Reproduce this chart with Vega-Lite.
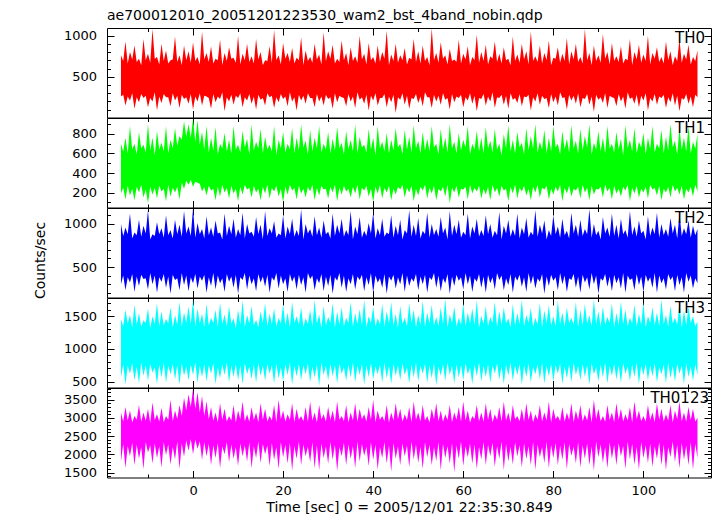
{
"$schema": "https://vega.github.io/schema/vega-lite/v6.json",
"background": "white",
"padding": {"left": 32, "top": 8, "right": 5, "bottom": 2},
"spacing": 0,
"bounds": "flush",
"config": {
  "view": {"stroke": "black", "strokeWidth": 1},
  "concat": {"spacing": 0},
  "font": "DejaVu Sans",
  "axis": {"domain": false, "grid": false, "tickColor": "black", "tickWidth": 1, "labelColor": "black", "labelFont": "DejaVu Sans", "labelFontSize": 13, "labelOverlap": false, "labelFlush": false, "titleFont": "DejaVu Sans", "titleFontSize": 14, "titleFontWeight": "normal", "titleColor": "black"}
},
"datasets": {"lc": [
{"t":-16,"r0":260,"r1":760,"g0":190,"g1":700,"b0":300,"b1":1000,"c0":560,"c1":1460,"m0":1800,"m1":3150},
{"t":-15,"r0":150,"r1":930,"g0":130,"g1":760,"b0":230,"b1":960,"c0":450,"c1":1600,"m0":1620,"m1":3300},
{"t":-14,"r0":210,"r1":800,"g0":170,"g1":880,"b0":320,"b1":1120,"c0":620,"c1":1520,"m0":1950,"m1":3200},
{"t":-13,"r0":110,"r1":880,"g0":120,"g1":700,"b0":210,"b1":900,"c0":520,"c1":1680,"m0":1700,"m1":3050},
{"t":-12,"r0":190,"r1":720,"g0":200,"g1":820,"b0":280,"b1":1050,"c0":470,"c1":1550,"m0":1880,"m1":3350},
{"t":-11,"r0":240,"r1":960,"g0":150,"g1":690,"b0":360,"b1":980,"c0":590,"c1":1440,"m0":1590,"m1":3150},
{"t":-10,"r0":130,"r1":780,"g0":90,"g1":900,"b0":240,"b1":1160,"c0":510,"c1":1620,"m0":2050,"m1":3250},
{"t":-9,"r0":200,"r1":1080,"g0":180,"g1":760,"b0":300,"b1":880,"c0":640,"c1":1500,"m0":1750,"m1":3420},
{"t":-8,"r0":90,"r1":740,"g0":140,"g1":830,"b0":200,"b1":1020,"c0":460,"c1":1700,"m0":1900,"m1":3100},
{"t":-7,"r0":180,"r1":900,"g0":210,"g1":710,"b0":330,"b1":950,"c0":560,"c1":1580,"m0":1640,"m1":3280},
{"t":-6,"r0":250,"r1":820,"g0":110,"g1":880,"b0":260,"b1":1100,"c0":480,"c1":1460,"m0":1980,"m1":3050},
{"t":-5,"r0":140,"r1":700,"g0":160,"g1":740,"b0":190,"b1":930,"c0":610,"c1":1640,"m0":1720,"m1":3500},
{"t":-4,"r0":210,"r1":990,"g0":200,"g1":860,"b0":350,"b1":1050,"c0":530,"c1":1520,"m0":1860,"m1":3200},
{"t":-3,"r0":120,"r1":760,"g0":130,"g1":780,"b0":230,"b1":990,"c0":450,"c1":1720,"m0":1600,"m1":3350},
{"t":-2,"r0":230,"r1":880,"g0":240,"g1":930,"b0":290,"b1":1150,"c0":590,"c1":1560,"m0":1930,"m1":3550},
{"t":-1,"r0":170,"r1":810,"g0":280,"g1":900,"b0":220,"b1":970,"c0":520,"c1":1650,"m0":2100,"m1":3650},
{"t":0,"r0":100,"r1":920,"g0":260,"g1":960,"b0":310,"b1":1180,"c0":600,"c1":1760,"m0":2000,"m1":3800},
{"t":1,"r0":200,"r1":740,"g0":300,"g1":940,"b0":250,"b1":1010,"c0":480,"c1":1620,"m0":2150,"m1":3700},
{"t":2,"r0":150,"r1":1050,"g0":210,"g1":820,"b0":340,"b1":940,"c0":570,"c1":1540,"m0":1850,"m1":3600},
{"t":3,"r0":260,"r1":790,"g0":170,"g1":880,"b0":200,"b1":1090,"c0":500,"c1":1690,"m0":1950,"m1":3450},
{"t":4,"r0":110,"r1":870,"g0":220,"g1":760,"b0":280,"b1":960,"c0":620,"c1":1480,"m0":1700,"m1":3300},
{"t":5,"r0":190,"r1":720,"g0":120,"g1":870,"b0":240,"b1":1040,"c0":460,"c1":1600,"m0":1900,"m1":3150},
{"t":6,"r0":230,"r1":950,"g0":160,"g1":700,"b0":310,"b1":900,"c0":550,"c1":1710,"m0":1620,"m1":3400},
{"t":7,"r0":80,"r1":790,"g0":200,"g1":810,"b0":210,"b1":1120,"c0":600,"c1":1530,"m0":2000,"m1":3250},
{"t":8,"r0":200,"r1":860,"g0":140,"g1":740,"b0":330,"b1":980,"c0":490,"c1":1650,"m0":1780,"m1":3050},
{"t":9,"r0":160,"r1":730,"g0":190,"g1":880,"b0":260,"b1":1060,"c0":570,"c1":1470,"m0":1880,"m1":3350},
{"t":10,"r0":240,"r1":1000,"g0":110,"g1":690,"b0":190,"b1":940,"c0":520,"c1":1600,"m0":1680,"m1":3200},
{"t":11,"r0":130,"r1":780,"g0":180,"g1":830,"b0":350,"b1":1130,"c0":460,"c1":1740,"m0":1950,"m1":3450},
{"t":12,"r0":210,"r1":900,"g0":230,"g1":750,"b0":240,"b1":1000,"c0":610,"c1":1520,"m0":1800,"m1":3100},
{"t":13,"r0":170,"r1":750,"g0":150,"g1":900,"b0":300,"b1":910,"c0":540,"c1":1660,"m0":1620,"m1":3300},
{"t":14,"r0":100,"r1":960,"g0":200,"g1":720,"b0":220,"b1":1080,"c0":480,"c1":1450,"m0":1900,"m1":3150},
{"t":15,"r0":220,"r1":800,"g0":120,"g1":850,"b0":320,"b1":990,"c0":590,"c1":1580,"m0":1760,"m1":3400},
{"t":16,"r0":150,"r1":700,"g0":190,"g1":770,"b0":270,"b1":1150,"c0":510,"c1":1700,"m0":2000,"m1":3250},
{"t":17,"r0":250,"r1":870,"g0":140,"g1":690,"b0":200,"b1":950,"c0":620,"c1":1540,"m0":1680,"m1":3050},
{"t":18,"r0":120,"r1":1070,"g0":210,"g1":880,"b0":340,"b1":1030,"c0":470,"c1":1620,"m0":1850,"m1":3350},
{"t":19,"r0":190,"r1":760,"g0":160,"g1":740,"b0":250,"b1":890,"c0":550,"c1":1480,"m0":1600,"m1":3500},
{"t":20,"r0":230,"r1":910,"g0":100,"g1":820,"b0":300,"b1":1100,"c0":500,"c1":1690,"m0":1920,"m1":3200},
{"t":21,"r0":140,"r1":790,"g0":180,"g1":700,"b0":210,"b1":970,"c0":600,"c1":1560,"m0":1750,"m1":3100},
{"t":22,"r0":200,"r1":850,"g0":220,"g1":860,"b0":330,"b1":1060,"c0":450,"c1":1720,"m0":1550,"m1":3400},
{"t":23,"r0":90,"r1":730,"g0":130,"g1":760,"b0":240,"b1":930,"c0":580,"c1":1500,"m0":1880,"m1":3250},
{"t":24,"r0":210,"r1":980,"g0":190,"g1":900,"b0":290,"b1":1170,"c0":520,"c1":1640,"m0":1700,"m1":3050},
{"t":25,"r0":170,"r1":820,"g0":150,"g1":730,"b0":200,"b1":1000,"c0":610,"c1":1470,"m0":1950,"m1":3300},
{"t":26,"r0":240,"r1":740,"g0":210,"g1":840,"b0":360,"b1":940,"c0":490,"c1":1600,"m0":1780,"m1":3450},
{"t":27,"r0":130,"r1":900,"g0":120,"g1":760,"b0":230,"b1":1090,"c0":560,"c1":1750,"m0":1620,"m1":3150},
{"t":28,"r0":200,"r1":770,"g0":170,"g1":880,"b0":310,"b1":960,"c0":430,"c1":1530,"m0":1560,"m1":3350},
{"t":29,"r0":150,"r1":1040,"g0":230,"g1":700,"b0":220,"b1":1040,"c0":600,"c1":1660,"m0":1900,"m1":3100},
{"t":30,"r0":230,"r1":810,"g0":140,"g1":820,"b0":280,"b1":910,"c0":520,"c1":1490,"m0":1740,"m1":3300},
{"t":31,"r0":110,"r1":890,"g0":200,"g1":750,"b0":190,"b1":1120,"c0":580,"c1":1700,"m0":1850,"m1":3200},
{"t":32,"r0":190,"r1":720,"g0":110,"g1":870,"b0":340,"b1":990,"c0":470,"c1":1570,"m0":1540,"m1":3450},
{"t":33,"r0":250,"r1":940,"g0":180,"g1":710,"b0":260,"b1":1060,"c0":620,"c1":1640,"m0":1950,"m1":3050},
{"t":34,"r0":140,"r1":790,"g0":210,"g1":830,"b0":210,"b1":930,"c0":510,"c1":1480,"m0":1700,"m1":3350},
{"t":35,"r0":200,"r1":860,"g0":150,"g1":740,"b0":300,"b1":1150,"c0":560,"c1":1720,"m0":1880,"m1":3150},
{"t":36,"r0":120,"r1":750,"g0":190,"g1":900,"b0":240,"b1":970,"c0":490,"c1":1550,"m0":1620,"m1":3400},
{"t":37,"r0":220,"r1":1000,"g0":130,"g1":770,"b0":350,"b1":1080,"c0":600,"c1":1610,"m0":1800,"m1":3250},
{"t":38,"r0":170,"r1":780,"g0":220,"g1":690,"b0":220,"b1":920,"c0":450,"c1":1760,"m0":1960,"m1":3100},
{"t":39,"r0":90,"r1":910,"g0":160,"g1":850,"b0":290,"b1":1010,"c0":570,"c1":1500,"m0":1680,"m1":3300},
{"t":40,"r0":210,"r1":740,"g0":100,"g1":760,"b0":200,"b1":1130,"c0":530,"c1":1650,"m0":1850,"m1":3500},
{"t":41,"r0":150,"r1":880,"g0":190,"g1":880,"b0":320,"b1":950,"c0":610,"c1":1470,"m0":1580,"m1":3200},
{"t":42,"r0":240,"r1":800,"g0":140,"g1":720,"b0":260,"b1":1060,"c0":480,"c1":1690,"m0":1900,"m1":3050},
{"t":43,"r0":130,"r1":1060,"g0":200,"g1":810,"b0":190,"b1":900,"c0":550,"c1":1580,"m0":1750,"m1":3350},
{"t":44,"r0":190,"r1":770,"g0":120,"g1":740,"b0":340,"b1":1100,"c0":460,"c1":1720,"m0":1520,"m1":3150},
{"t":45,"r0":60,"r1":900,"g0":180,"g1":860,"b0":250,"b1":980,"c0":590,"c1":1540,"m0":1880,"m1":3400},
{"t":46,"r0":220,"r1":760,"g0":230,"g1":700,"b0":300,"b1":1050,"c0":520,"c1":1660,"m0":1700,"m1":3250},
{"t":47,"r0":160,"r1":850,"g0":150,"g1":840,"b0":210,"b1":930,"c0":600,"c1":1480,"m0":1950,"m1":3100},
{"t":48,"r0":110,"r1":730,"g0":200,"g1":770,"b0":280,"b1":1160,"c0":470,"c1":1700,"m0":1640,"m1":3300},
{"t":49,"r0":230,"r1":960,"g0":110,"g1":890,"b0":330,"b1":990,"c0":560,"c1":1600,"m0":1860,"m1":3450},
{"t":50,"r0":180,"r1":810,"g0":170,"g1":730,"b0":230,"b1":1070,"c0":500,"c1":1520,"m0":1760,"m1":3150},
{"t":51,"r0":140,"r1":880,"g0":220,"g1":820,"b0":300,"b1":920,"c0":620,"c1":1740,"m0":1600,"m1":3350},
{"t":52,"r0":250,"r1":740,"g0":140,"g1":750,"b0":200,"b1":1130,"c0":480,"c1":1560,"m0":1920,"m1":3050},
{"t":53,"r0":120,"r1":1090,"g0":190,"g1":880,"b0":350,"b1":1000,"c0":550,"c1":1680,"m0":1700,"m1":3250},
{"t":54,"r0":200,"r1":790,"g0":120,"g1":700,"b0":260,"b1":940,"c0":440,"c1":1490,"m0":1820,"m1":3400},
{"t":55,"r0":160,"r1":920,"g0":210,"g1":850,"b0":220,"b1":1080,"c0":590,"c1":1640,"m0":1560,"m1":3200},
{"t":56,"r0":220,"r1":760,"g0":160,"g1":760,"b0":310,"b1":960,"c0":510,"c1":1770,"m0":1900,"m1":3100},
{"t":57,"r0":100,"r1":840,"g0":90,"g1":900,"b0":190,"b1":1150,"c0":600,"c1":1530,"m0":1750,"m1":3350},
{"t":58,"r0":190,"r1":710,"g0":200,"g1":720,"b0":280,"b1":990,"c0":470,"c1":1650,"m0":1500,"m1":3150},
{"t":59,"r0":240,"r1":950,"g0":150,"g1":810,"b0":340,"b1":1050,"c0":560,"c1":1480,"m0":1880,"m1":3300},
{"t":60,"r0":130,"r1":780,"g0":230,"g1":740,"b0":240,"b1":910,"c0":520,"c1":1700,"m0":1680,"m1":3450},
{"t":61,"r0":210,"r1":870,"g0":130,"g1":880,"b0":300,"b1":1120,"c0":610,"c1":1560,"m0":1920,"m1":3200},
{"t":62,"r0":170,"r1":740,"g0":190,"g1":700,"b0":210,"b1":970,"c0":460,"c1":1620,"m0":1740,"m1":3050},
{"t":63,"r0":80,"r1":1010,"g0":210,"g1":830,"b0":330,"b1":1060,"c0":580,"c1":1750,"m0":1600,"m1":3350},
{"t":64,"r0":230,"r1":800,"g0":140,"g1":760,"b0":260,"b1":930,"c0":500,"c1":1510,"m0":1860,"m1":3150},
{"t":65,"r0":150,"r1":890,"g0":180,"g1":870,"b0":200,"b1":1100,"c0":570,"c1":1660,"m0":1700,"m1":3400},
{"t":66,"r0":200,"r1":750,"g0":120,"g1":730,"b0":310,"b1":1000,"c0":480,"c1":1490,"m0":1950,"m1":3250},
{"t":67,"r0":120,"r1":930,"g0":200,"g1":850,"b0":240,"b1":920,"c0":620,"c1":1720,"m0":1650,"m1":3100},
{"t":68,"r0":240,"r1":780,"g0":160,"g1":700,"b0":350,"b1":1140,"c0":530,"c1":1580,"m0":1880,"m1":3300},
{"t":69,"r0":160,"r1":860,"g0":220,"g1":800,"b0":230,"b1":980,"c0":460,"c1":1640,"m0":1560,"m1":3450},
{"t":70,"r0":110,"r1":720,"g0":110,"g1":890,"b0":290,"b1":1050,"c0":590,"c1":1470,"m0":1800,"m1":3150},
{"t":71,"r0":220,"r1":990,"g0":190,"g1":740,"b0":200,"b1":940,"c0":510,"c1":1690,"m0":1720,"m1":3350},
{"t":72,"r0":180,"r1":770,"g0":140,"g1":820,"b0":340,"b1":1120,"c0":600,"c1":1550,"m0":1950,"m1":3050},
{"t":73,"r0":140,"r1":900,"g0":210,"g1":710,"b0":270,"b1":960,"c0":450,"c1":1760,"m0":1640,"m1":3250},
{"t":74,"r0":250,"r1":810,"g0":170,"g1":860,"b0":210,"b1":1070,"c0":570,"c1":1520,"m0":1870,"m1":3400},
{"t":75,"r0":90,"r1":1050,"g0":120,"g1":780,"b0":300,"b1":910,"c0":490,"c1":1630,"m0":1700,"m1":3200},
{"t":76,"r0":200,"r1":750,"g0":200,"g1":900,"b0":250,"b1":1160,"c0":610,"c1":1480,"m0":1580,"m1":3100},
{"t":77,"r0":160,"r1":880,"g0":150,"g1":720,"b0":330,"b1":990,"c0":530,"c1":1710,"m0":1920,"m1":3350},
{"t":78,"r0":230,"r1":790,"g0":230,"g1":840,"b0":190,"b1":1040,"c0":470,"c1":1590,"m0":1760,"m1":3150},
{"t":79,"r0":120,"r1":940,"g0":130,"g1":760,"b0":280,"b1":930,"c0":580,"c1":1670,"m0":1620,"m1":3450},
{"t":80,"r0":190,"r1":730,"g0":180,"g1":880,"b0":340,"b1":1100,"c0":500,"c1":1500,"m0":1900,"m1":3250},
{"t":81,"r0":150,"r1":860,"g0":210,"g1":700,"b0":230,"b1":970,"c0":620,"c1":1740,"m0":1700,"m1":3050},
{"t":82,"r0":240,"r1":780,"g0":110,"g1":830,"b0":300,"b1":1060,"c0":460,"c1":1560,"m0":1850,"m1":3300},
{"t":83,"r0":100,"r1":970,"g0":190,"g1":750,"b0":210,"b1":920,"c0":550,"c1":1640,"m0":1590,"m1":3150},
{"t":84,"r0":210,"r1":810,"g0":160,"g1":890,"b0":350,"b1":1130,"c0":490,"c1":1480,"m0":1960,"m1":3400},
{"t":85,"r0":170,"r1":900,"g0":220,"g1":730,"b0":260,"b1":990,"c0":600,"c1":1720,"m0":1750,"m1":3200},
{"t":86,"r0":130,"r1":740,"g0":140,"g1":850,"b0":200,"b1":1050,"c0":520,"c1":1600,"m0":1640,"m1":3350},
{"t":87,"r0":230,"r1":1080,"g0":200,"g1":780,"b0":320,"b1":940,"c0":570,"c1":1690,"m0":1880,"m1":3100},
{"t":88,"r0":160,"r1":790,"g0":120,"g1":900,"b0":240,"b1":1170,"c0":450,"c1":1520,"m0":1700,"m1":3300},
{"t":89,"r0":70,"r1":880,"g0":180,"g1":710,"b0":300,"b1":1000,"c0":610,"c1":1760,"m0":1550,"m1":3500},
{"t":90,"r0":220,"r1":760,"g0":230,"g1":830,"b0":190,"b1":920,"c0":500,"c1":1580,"m0":1920,"m1":3250},
{"t":91,"r0":180,"r1":1020,"g0":150,"g1":760,"b0":340,"b1":1080,"c0":560,"c1":1650,"m0":1760,"m1":3050},
{"t":92,"r0":120,"r1":800,"g0":210,"g1":880,"b0":270,"b1":960,"c0":470,"c1":1490,"m0":1620,"m1":3350},
{"t":93,"r0":250,"r1":910,"g0":130,"g1":700,"b0":220,"b1":1120,"c0":590,"c1":1700,"m0":1880,"m1":3150},
{"t":94,"r0":140,"r1":750,"g0":190,"g1":820,"b0":310,"b1":990,"c0":530,"c1":1550,"m0":1700,"m1":3400},
{"t":95,"r0":200,"r1":870,"g0":160,"g1":750,"b0":250,"b1":1060,"c0":480,"c1":1730,"m0":1950,"m1":3250},
{"t":96,"r0":110,"r1":720,"g0":220,"g1":890,"b0":200,"b1":930,"c0":620,"c1":1600,"m0":1600,"m1":3100},
{"t":97,"r0":230,"r1":960,"g0":110,"g1":740,"b0":350,"b1":1150,"c0":510,"c1":1480,"m0":1860,"m1":3300},
{"t":98,"r0":170,"r1":800,"g0":190,"g1":860,"b0":230,"b1":970,"c0":570,"c1":1680,"m0":1720,"m1":3450},
{"t":99,"r0":130,"r1":890,"g0":150,"g1":720,"b0":290,"b1":1040,"c0":460,"c1":1540,"m0":1580,"m1":3200},
{"t":100,"r0":210,"r1":770,"g0":200,"g1":810,"b0":210,"b1":920,"c0":600,"c1":1710,"m0":1900,"m1":3050},
{"t":101,"r0":90,"r1":1000,"g0":140,"g1":760,"b0":330,"b1":1090,"c0":520,"c1":1500,"m0":1760,"m1":3350},
{"t":102,"r0":200,"r1":790,"g0":230,"g1":880,"b0":260,"b1":960,"c0":580,"c1":1640,"m0":1650,"m1":3150},
{"t":103,"r0":160,"r1":860,"g0":170,"g1":700,"b0":200,"b1":1130,"c0":490,"c1":1560,"m0":1880,"m1":3400},
{"t":104,"r0":240,"r1":740,"g0":120,"g1":840,"b0":310,"b1":1000,"c0":610,"c1":1760,"m0":1700,"m1":3250},
{"t":105,"r0":120,"r1":930,"g0":200,"g1":770,"b0":240,"b1":940,"c0":470,"c1":1520,"m0":1560,"m1":3100},
{"t":106,"r0":190,"r1":810,"g0":150,"g1":900,"b0":350,"b1":1070,"c0":550,"c1":1660,"m0":1920,"m1":3350},
{"t":107,"r0":150,"r1":750,"g0":210,"g1":730,"b0":220,"b1":990,"c0":500,"c1":1480,"m0":1780,"m1":3200},
{"t":108,"r0":80,"r1":960,"g0":180,"g1":860,"b0":290,"b1":1120,"c0":620,"c1":1700,"m0":1620,"m1":3450},
{"t":109,"r0":220,"r1":780,"g0":130,"g1":760,"b0":200,"b1":950,"c0":460,"c1":1590,"m0":1850,"m1":3150},
{"t":110,"r0":170,"r1":890,"g0":200,"g1":880,"b0":330,"b1":1040,"c0":570,"c1":1650,"m0":1700,"m1":3300},
{"t":111,"r0":130,"r1":740,"g0":160,"g1":720,"b0":250,"b1":980,"c0":510,"c1":1500,"m0":1580,"m1":3250},
{"t":112,"r0":250,"r1":820,"g0":210,"g1":800,"b0":310,"b1":940,"c0":600,"c1":1420,"m0":1900,"m1":3000},
{"t":-15.5,"r0":280,"r1":690,"g0":250,"g1":620,"b0":400,"b1":860,"c0":760,"c1":1350,"m0":2280,"m1":2900},
{"t":-14.5,"r0":260,"r1":660,"g0":270,"g1":600,"b0":380,"b1":880,"c0":740,"c1":1390,"m0":2230,"m1":2930},
{"t":-13.5,"r0":300,"r1":710,"g0":240,"g1":640,"b0":420,"b1":830,"c0":780,"c1":1330,"m0":2320,"m1":2870},
{"t":-12.5,"r0":250,"r1":680,"g0":260,"g1":590,"b0":390,"b1":870,"c0":730,"c1":1370,"m0":2260,"m1":2950},
{"t":-11.5,"r0":290,"r1":640,"g0":280,"g1":650,"b0":410,"b1":850,"c0":790,"c1":1340,"m0":2200,"m1":2890},
{"t":-10.5,"r0":270,"r1":700,"g0":230,"g1":610,"b0":370,"b1":890,"c0":750,"c1":1400,"m0":2340,"m1":2920},
{"t":-9.5,"r0":240,"r1":670,"g0":260,"g1":630,"b0":430,"b1":820,"c0":770,"c1":1320,"m0":2250,"m1":2860},
{"t":-8.5,"r0":310,"r1":720,"g0":250,"g1":580,"b0":400,"b1":860,"c0":720,"c1":1380,"m0":2300,"m1":2940},
{"t":-7.5,"r0":260,"r1":650,"g0":270,"g1":640,"b0":380,"b1":880,"c0":760,"c1":1350,"m0":2220,"m1":2900},
{"t":-6.5,"r0":290,"r1":690,"g0":240,"g1":620,"b0":420,"b1":840,"c0":790,"c1":1360,"m0":2330,"m1":2880},
{"t":-5.5,"r0":250,"r1":660,"g0":280,"g1":600,"b0":390,"b1":870,"c0":740,"c1":1390,"m0":2270,"m1":2950},
{"t":-4.5,"r0":300,"r1":710,"g0":250,"g1":650,"b0":410,"b1":830,"c0":770,"c1":1330,"m0":2210,"m1":2910},
{"t":-3.5,"r0":270,"r1":680,"g0":260,"g1":680,"b0":370,"b1":880,"c0":750,"c1":1370,"m0":2350,"m1":2970},
{"t":-2.5,"r0":280,"r1":640,"g0":300,"g1":740,"b0":430,"b1":850,"c0":780,"c1":1340,"m0":2300,"m1":3050},
{"t":-1.5,"r0":250,"r1":700,"g0":320,"g1":770,"b0":400,"b1":890,"c0":730,"c1":1400,"m0":2380,"m1":3200},
{"t":-0.5,"r0":290,"r1":670,"g0":330,"g1":760,"b0":380,"b1":860,"c0":760,"c1":1380,"m0":2420,"m1":3300},
{"t":0.5,"r0":260,"r1":690,"g0":310,"g1":720,"b0":420,"b1":840,"c0":790,"c1":1350,"m0":2400,"m1":3250},
{"t":1.5,"r0":300,"r1":650,"g0":290,"g1":690,"b0":390,"b1":880,"c0":740,"c1":1390,"m0":2360,"m1":3150},
{"t":2.5,"r0":270,"r1":710,"g0":260,"g1":640,"b0":410,"b1":830,"c0":770,"c1":1330,"m0":2330,"m1":3050},
{"t":3.5,"r0":240,"r1":680,"g0":270,"g1":610,"b0":380,"b1":870,"c0":750,"c1":1360,"m0":2290,"m1":2960},
{"t":4.5,"r0":290,"r1":660,"g0":240,"g1":630,"b0":430,"b1":850,"c0":780,"c1":1400,"m0":2250,"m1":2920},
{"t":5.5,"r0":260,"r1":700,"g0":260,"g1":590,"b0":400,"b1":890,"c0":720,"c1":1340,"m0":2310,"m1":2880},
{"t":6.5,"r0":310,"r1":640,"g0":280,"g1":650,"b0":370,"b1":820,"c0":760,"c1":1380,"m0":2220,"m1":2950},
{"t":7.5,"r0":250,"r1":690,"g0":250,"g1":620,"b0":420,"b1":860,"c0":790,"c1":1350,"m0":2340,"m1":2900},
{"t":8.5,"r0":280,"r1":720,"g0":270,"g1":600,"b0":390,"b1":880,"c0":740,"c1":1390,"m0":2270,"m1":2930},
{"t":9.5,"r0":270,"r1":670,"g0":240,"g1":640,"b0":410,"b1":840,"c0":770,"c1":1320,"m0":2200,"m1":2870},
{"t":10.5,"r0":300,"r1":650,"g0":260,"g1":610,"b0":380,"b1":870,"c0":750,"c1":1370,"m0":2300,"m1":2960},
{"t":11.5,"r0":250,"r1":700,"g0":280,"g1":660,"b0":430,"b1":830,"c0":780,"c1":1340,"m0":2250,"m1":2910},
{"t":12.5,"r0":290,"r1":680,"g0":250,"g1":590,"b0":400,"b1":890,"c0":730,"c1":1390,"m0":2330,"m1":2890},
{"t":13.5,"r0":260,"r1":660,"g0":270,"g1":630,"b0":370,"b1":850,"c0":760,"c1":1360,"m0":2220,"m1":2940},
{"t":14.5,"r0":280,"r1":710,"g0":240,"g1":650,"b0":420,"b1":880,"c0":790,"c1":1330,"m0":2350,"m1":2880},
{"t":15.5,"r0":240,"r1":640,"g0":260,"g1":600,"b0":390,"b1":820,"c0":740,"c1":1400,"m0":2280,"m1":2950},
{"t":16.5,"r0":300,"r1":690,"g0":280,"g1":640,"b0":410,"b1":860,"c0":770,"c1":1350,"m0":2240,"m1":2900},
{"t":17.5,"r0":270,"r1":670,"g0":250,"g1":620,"b0":380,"b1":890,"c0":750,"c1":1380,"m0":2310,"m1":2930},
{"t":18.5,"r0":250,"r1":700,"g0":270,"g1":580,"b0":430,"b1":840,"c0":780,"c1":1340,"m0":2200,"m1":2870},
{"t":19.5,"r0":290,"r1":650,"g0":240,"g1":650,"b0":400,"b1":870,"c0":720,"c1":1390,"m0":2340,"m1":2960},
{"t":20.5,"r0":260,"r1":720,"g0":260,"g1":610,"b0":370,"b1":830,"c0":760,"c1":1360,"m0":2260,"m1":2900},
{"t":21.5,"r0":310,"r1":680,"g0":280,"g1":640,"b0":420,"b1":880,"c0":790,"c1":1330,"m0":2320,"m1":2940},
{"t":22.5,"r0":250,"r1":660,"g0":250,"g1":600,"b0":390,"b1":850,"c0":740,"c1":1400,"m0":2230,"m1":2880},
{"t":23.5,"r0":280,"r1":700,"g0":270,"g1":630,"b0":410,"b1":860,"c0":770,"c1":1370,"m0":2350,"m1":2950},
{"t":24.5,"r0":270,"r1":640,"g0":240,"g1":660,"b0":380,"b1":820,"c0":750,"c1":1340,"m0":2270,"m1":2910},
{"t":25.5,"r0":300,"r1":690,"g0":260,"g1":590,"b0":430,"b1":890,"c0":780,"c1":1380,"m0":2210,"m1":2890},
{"t":26.5,"r0":240,"r1":670,"g0":280,"g1":620,"b0":400,"b1":850,"c0":730,"c1":1350,"m0":2330,"m1":2930},
{"t":27.5,"r0":290,"r1":710,"g0":250,"g1":650,"b0":370,"b1":870,"c0":760,"c1":1390,"m0":2250,"m1":2870},
{"t":28.5,"r0":260,"r1":650,"g0":270,"g1":610,"b0":420,"b1":840,"c0":790,"c1":1320,"m0":2300,"m1":2960},
{"t":29.5,"r0":280,"r1":690,"g0":240,"g1":640,"b0":390,"b1":880,"c0":740,"c1":1360,"m0":2220,"m1":2900},
{"t":30.5,"r0":250,"r1":720,"g0":260,"g1":600,"b0":410,"b1":830,"c0":770,"c1":1400,"m0":2340,"m1":2940},
{"t":31.5,"r0":300,"r1":660,"g0":280,"g1":630,"b0":380,"b1":860,"c0":750,"c1":1330,"m0":2260,"m1":2880},
{"t":32.5,"r0":270,"r1":680,"g0":250,"g1":650,"b0":430,"b1":890,"c0":780,"c1":1370,"m0":2200,"m1":2950},
{"t":33.5,"r0":240,"r1":700,"g0":270,"g1":590,"b0":400,"b1":850,"c0":720,"c1":1350,"m0":2320,"m1":2910},
{"t":34.5,"r0":290,"r1":640,"g0":240,"g1":640,"b0":370,"b1":870,"c0":760,"c1":1390,"m0":2270,"m1":2870},
{"t":35.5,"r0":260,"r1":690,"g0":260,"g1":620,"b0":420,"b1":820,"c0":790,"c1":1340,"m0":2230,"m1":2930},
{"t":36.5,"r0":310,"r1":670,"g0":280,"g1":600,"b0":390,"b1":880,"c0":740,"c1":1380,"m0":2350,"m1":2890},
{"t":37.5,"r0":250,"r1":710,"g0":250,"g1":660,"b0":410,"b1":840,"c0":770,"c1":1360,"m0":2280,"m1":2960},
{"t":38.5,"r0":280,"r1":650,"g0":270,"g1":610,"b0":380,"b1":860,"c0":750,"c1":1330,"m0":2210,"m1":2900},
{"t":39.5,"r0":270,"r1":700,"g0":240,"g1":640,"b0":430,"b1":890,"c0":780,"c1":1400,"m0":2330,"m1":2940},
{"t":40.5,"r0":300,"r1":660,"g0":260,"g1":580,"b0":400,"b1":830,"c0":730,"c1":1350,"m0":2260,"m1":2880},
{"t":41.5,"r0":240,"r1":680,"g0":280,"g1":650,"b0":370,"b1":870,"c0":760,"c1":1370,"m0":2200,"m1":2950},
{"t":42.5,"r0":290,"r1":720,"g0":250,"g1":620,"b0":420,"b1":850,"c0":790,"c1":1340,"m0":2340,"m1":2910},
{"t":43.5,"r0":260,"r1":640,"g0":270,"g1":600,"b0":390,"b1":880,"c0":740,"c1":1390,"m0":2250,"m1":2870},
{"t":44.5,"r0":280,"r1":690,"g0":240,"g1":630,"b0":410,"b1":840,"c0":770,"c1":1360,"m0":2310,"m1":2930},
{"t":45.5,"r0":250,"r1":670,"g0":260,"g1":660,"b0":380,"b1":870,"c0":750,"c1":1320,"m0":2220,"m1":2960},
{"t":46.5,"r0":300,"r1":700,"g0":280,"g1":590,"b0":430,"b1":820,"c0":780,"c1":1380,"m0":2300,"m1":2890},
{"t":47.5,"r0":270,"r1":650,"g0":250,"g1":640,"b0":400,"b1":890,"c0":720,"c1":1350,"m0":2240,"m1":2940},
{"t":48.5,"r0":240,"r1":710,"g0":270,"g1":610,"b0":370,"b1":850,"c0":760,"c1":1400,"m0":2350,"m1":2880},
{"t":49.5,"r0":290,"r1":680,"g0":240,"g1":650,"b0":420,"b1":860,"c0":790,"c1":1330,"m0":2270,"m1":2950},
{"t":50.5,"r0":260,"r1":660,"g0":260,"g1":600,"b0":390,"b1":830,"c0":740,"c1":1370,"m0":2210,"m1":2900},
{"t":51.5,"r0":310,"r1":690,"g0":280,"g1":630,"b0":410,"b1":880,"c0":770,"c1":1340,"m0":2330,"m1":2930},
{"t":52.5,"r0":250,"r1":640,"g0":250,"g1":620,"b0":380,"b1":840,"c0":750,"c1":1390,"m0":2260,"m1":2870},
{"t":53.5,"r0":280,"r1":700,"g0":270,"g1":660,"b0":430,"b1":870,"c0":780,"c1":1360,"m0":2200,"m1":2960},
{"t":54.5,"r0":270,"r1":670,"g0":240,"g1":590,"b0":400,"b1":850,"c0":730,"c1":1350,"m0":2340,"m1":2910},
{"t":55.5,"r0":300,"r1":720,"g0":260,"g1":640,"b0":370,"b1":890,"c0":760,"c1":1380,"m0":2280,"m1":2890},
{"t":56.5,"r0":240,"r1":650,"g0":280,"g1":610,"b0":420,"b1":820,"c0":790,"c1":1330,"m0":2230,"m1":2940},
{"t":57.5,"r0":290,"r1":690,"g0":250,"g1":650,"b0":390,"b1":860,"c0":740,"c1":1400,"m0":2310,"m1":2880},
{"t":58.5,"r0":260,"r1":680,"g0":270,"g1":600,"b0":410,"b1":880,"c0":770,"c1":1340,"m0":2250,"m1":2950},
{"t":59.5,"r0":280,"r1":660,"g0":240,"g1":630,"b0":380,"b1":840,"c0":750,"c1":1370,"m0":2350,"m1":2900},
{"t":60.5,"r0":250,"r1":710,"g0":260,"g1":660,"b0":430,"b1":870,"c0":780,"c1":1350,"m0":2220,"m1":2930},
{"t":61.5,"r0":300,"r1":640,"g0":280,"g1":590,"b0":400,"b1":830,"c0":720,"c1":1390,"m0":2300,"m1":2870},
{"t":62.5,"r0":270,"r1":700,"g0":250,"g1":640,"b0":370,"b1":890,"c0":760,"c1":1360,"m0":2270,"m1":2960},
{"t":63.5,"r0":240,"r1":670,"g0":270,"g1":620,"b0":420,"b1":850,"c0":790,"c1":1320,"m0":2200,"m1":2910},
{"t":64.5,"r0":290,"r1":690,"g0":240,"g1":600,"b0":390,"b1":860,"c0":740,"c1":1380,"m0":2340,"m1":2890},
{"t":65.5,"r0":260,"r1":650,"g0":260,"g1":650,"b0":410,"b1":880,"c0":770,"c1":1350,"m0":2260,"m1":2940},
{"t":66.5,"r0":310,"r1":720,"g0":280,"g1":610,"b0":380,"b1":840,"c0":750,"c1":1400,"m0":2320,"m1":2880},
{"t":67.5,"r0":250,"r1":680,"g0":250,"g1":640,"b0":430,"b1":870,"c0":780,"c1":1340,"m0":2230,"m1":2950},
{"t":68.5,"r0":280,"r1":660,"g0":270,"g1":580,"b0":400,"b1":820,"c0":730,"c1":1370,"m0":2350,"m1":2900},
{"t":69.5,"r0":270,"r1":700,"g0":240,"g1":650,"b0":370,"b1":890,"c0":760,"c1":1390,"m0":2280,"m1":2930},
{"t":70.5,"r0":300,"r1":640,"g0":260,"g1":620,"b0":420,"b1":850,"c0":790,"c1":1330,"m0":2210,"m1":2870},
{"t":71.5,"r0":240,"r1":690,"g0":280,"g1":600,"b0":390,"b1":860,"c0":740,"c1":1360,"m0":2330,"m1":2960},
{"t":72.5,"r0":290,"r1":670,"g0":250,"g1":660,"b0":410,"b1":830,"c0":770,"c1":1380,"m0":2250,"m1":2910},
{"t":73.5,"r0":260,"r1":710,"g0":270,"g1":590,"b0":380,"b1":880,"c0":750,"c1":1350,"m0":2300,"m1":2890},
{"t":74.5,"r0":280,"r1":650,"g0":240,"g1":630,"b0":430,"b1":840,"c0":780,"c1":1400,"m0":2220,"m1":2940},
{"t":75.5,"r0":250,"r1":690,"g0":260,"g1":650,"b0":400,"b1":870,"c0":720,"c1":1340,"m0":2340,"m1":2880},
{"t":76.5,"r0":300,"r1":680,"g0":280,"g1":610,"b0":370,"b1":850,"c0":760,"c1":1370,"m0":2270,"m1":2950},
{"t":77.5,"r0":270,"r1":660,"g0":250,"g1":640,"b0":420,"b1":890,"c0":790,"c1":1330,"m0":2200,"m1":2900},
{"t":78.5,"r0":240,"r1":700,"g0":270,"g1":600,"b0":390,"b1":820,"c0":740,"c1":1390,"m0":2350,"m1":2930},
{"t":79.5,"r0":290,"r1":640,"g0":240,"g1":620,"b0":410,"b1":860,"c0":770,"c1":1360,"m0":2260,"m1":2870},
{"t":80.5,"r0":260,"r1":720,"g0":260,"g1":660,"b0":380,"b1":880,"c0":750,"c1":1350,"m0":2310,"m1":2960},
{"t":81.5,"r0":310,"r1":670,"g0":280,"g1":590,"b0":430,"b1":840,"c0":780,"c1":1380,"m0":2240,"m1":2910},
{"t":82.5,"r0":250,"r1":690,"g0":250,"g1":640,"b0":400,"b1":870,"c0":730,"c1":1340,"m0":2330,"m1":2890},
{"t":83.5,"r0":280,"r1":650,"g0":270,"g1":610,"b0":370,"b1":830,"c0":760,"c1":1400,"m0":2280,"m1":2940},
{"t":84.5,"r0":270,"r1":710,"g0":240,"g1":650,"b0":420,"b1":890,"c0":790,"c1":1370,"m0":2210,"m1":2880},
{"t":85.5,"r0":300,"r1":680,"g0":260,"g1":600,"b0":390,"b1":850,"c0":740,"c1":1330,"m0":2340,"m1":2950},
{"t":86.5,"r0":240,"r1":660,"g0":280,"g1":630,"b0":410,"b1":860,"c0":770,"c1":1360,"m0":2250,"m1":2900},
{"t":87.5,"r0":290,"r1":700,"g0":250,"g1":660,"b0":380,"b1":880,"c0":750,"c1":1390,"m0":2300,"m1":2930},
{"t":88.5,"r0":260,"r1":640,"g0":270,"g1":590,"b0":430,"b1":840,"c0":780,"c1":1350,"m0":2220,"m1":2870},
{"t":89.5,"r0":280,"r1":690,"g0":240,"g1":640,"b0":400,"b1":870,"c0":720,"c1":1380,"m0":2350,"m1":2960},
{"t":90.5,"r0":250,"r1":670,"g0":260,"g1":620,"b0":370,"b1":820,"c0":760,"c1":1340,"m0":2270,"m1":2910},
{"t":91.5,"r0":300,"r1":720,"g0":280,"g1":600,"b0":420,"b1":890,"c0":790,"c1":1370,"m0":2200,"m1":2890},
{"t":92.5,"r0":270,"r1":650,"g0":250,"g1":650,"b0":390,"b1":850,"c0":740,"c1":1400,"m0":2330,"m1":2940},
{"t":93.5,"r0":240,"r1":690,"g0":270,"g1":610,"b0":410,"b1":860,"c0":770,"c1":1330,"m0":2260,"m1":2880},
{"t":94.5,"r0":290,"r1":680,"g0":240,"g1":640,"b0":380,"b1":830,"c0":750,"c1":1360,"m0":2310,"m1":2950},
{"t":95.5,"r0":260,"r1":660,"g0":260,"g1":580,"b0":430,"b1":880,"c0":780,"c1":1380,"m0":2230,"m1":2900},
{"t":96.5,"r0":310,"r1":700,"g0":280,"g1":650,"b0":400,"b1":840,"c0":730,"c1":1350,"m0":2350,"m1":2930},
{"t":97.5,"r0":250,"r1":640,"g0":250,"g1":620,"b0":370,"b1":870,"c0":760,"c1":1390,"m0":2280,"m1":2870},
{"t":98.5,"r0":280,"r1":710,"g0":270,"g1":600,"b0":420,"b1":850,"c0":790,"c1":1340,"m0":2210,"m1":2960},
{"t":99.5,"r0":270,"r1":670,"g0":240,"g1":660,"b0":390,"b1":890,"c0":740,"c1":1370,"m0":2340,"m1":2910},
{"t":100.5,"r0":300,"r1":690,"g0":260,"g1":590,"b0":410,"b1":820,"c0":770,"c1":1330,"m0":2250,"m1":2890},
{"t":101.5,"r0":240,"r1":650,"g0":280,"g1":640,"b0":380,"b1":860,"c0":750,"c1":1400,"m0":2300,"m1":2940},
{"t":102.5,"r0":290,"r1":720,"g0":250,"g1":610,"b0":430,"b1":880,"c0":780,"c1":1360,"m0":2220,"m1":2880},
{"t":103.5,"r0":260,"r1":680,"g0":270,"g1":650,"b0":400,"b1":840,"c0":720,"c1":1350,"m0":2330,"m1":2950},
{"t":104.5,"r0":280,"r1":660,"g0":240,"g1":600,"b0":370,"b1":870,"c0":760,"c1":1380,"m0":2270,"m1":2900},
{"t":105.5,"r0":250,"r1":700,"g0":260,"g1":630,"b0":420,"b1":850,"c0":790,"c1":1340,"m0":2200,"m1":2930},
{"t":106.5,"r0":300,"r1":640,"g0":280,"g1":660,"b0":390,"b1":890,"c0":740,"c1":1390,"m0":2350,"m1":2870},
{"t":107.5,"r0":270,"r1":690,"g0":250,"g1":590,"b0":410,"b1":830,"c0":770,"c1":1370,"m0":2260,"m1":2960},
{"t":108.5,"r0":240,"r1":670,"g0":270,"g1":640,"b0":380,"b1":860,"c0":750,"c1":1330,"m0":2310,"m1":2910},
{"t":109.5,"r0":290,"r1":710,"g0":240,"g1":620,"b0":430,"b1":880,"c0":780,"c1":1360,"m0":2240,"m1":2890},
{"t":110.5,"r0":260,"r1":650,"g0":260,"g1":600,"b0":400,"b1":840,"c0":730,"c1":1400,"m0":2340,"m1":2940},
{"t":111.5,"r0":280,"r1":690,"g0":280,"g1":650,"b0":370,"b1":870,"c0":760,"c1":1350,"m0":2280,"m1":2900}
]},
"vconcat": [
{
  "width": 604, "height": 89.5,
  "title": {"text": "ae700012010_20051201223530_wam2_bst_4band_nobin.qdp", "anchor": "start", "frame": "group", "font": "DejaVu Sans", "fontSize": 14, "fontWeight": "normal", "color": "black", "baseline": "alphabetic", "offset": -6.5},
  "layer": [
    {"data": {"name": "lc"},
     "mark": {"type": "area", "color": "#ff0000", "clip": true},
     "encoding": {
       "x": {"field": "t", "type": "quantitative", "scale": {"domain": [-19.1, 115], "nice": false, "zero": false},
             "axis": {"orient": "bottom", "values": [-10,0,10,20,30,40,50,60,70,80,90,100,110], "labels": false, "title": null, "tickSize": {"condition": {"test": "datum.value % 20 === 0", "value": -7}, "value": -3.5}}},
       "y": {"field": "r0", "type": "quantitative", "scale": {"domain": [4, 1093], "nice": false, "zero": false},
             "axis": {"orient": "left", "values": [100,200,300,400,500,600,700,800,900,1000], "format": "d", "labelExpr": "datum.value % 500 === 0 ? datum.label : ''", "title": null, "labelPadding": 17.5, "tickSize": {"condition": {"test": "datum.value % 500 === 0", "value": -7}, "value": -3.5}}},
       "y2": {"field": "r1"}
     }},
    {"data": {"values": [{"lab": "TH0"}]},
     "mark": {"type": "text", "align": "right", "baseline": "top", "dx": -6, "dy": 3, "font": "DejaVu Sans", "fontSize": 15, "color": "black"},
     "encoding": {
       "x": {"datum": 115, "type": "quantitative", "axis": {"orient": "top", "values": [-10,0,10,20,30,40,50,60,70,80,90,100,110], "labels": false, "title": null, "tickSize": {"condition": {"test": "datum.value % 20 === 0", "value": -7}, "value": -3.5}}},
       "y": {"datum": 1093, "type": "quantitative", "axis": {"orient": "right", "values": [100,200,300,400,500,600,700,800,900,1000], "labels": false, "title": null, "tickSize": {"condition": {"test": "datum.value % 500 === 0", "value": -7}, "value": -3.5}}},
       "text": {"field": "lab"}
     }}
  ],
  "resolve": {"axis": {"x": "independent", "y": "independent"}}
},
{
  "width": 604, "height": 89.5,
  "layer": [
    {"data": {"name": "lc"},
     "mark": {"type": "area", "color": "#00ff00", "clip": true},
     "encoding": {
       "x": {"field": "t", "type": "quantitative", "scale": {"domain": [-19.1, 115], "nice": false, "zero": false},
             "axis": {"orient": "bottom", "values": [-10,0,10,20,30,40,50,60,70,80,90,100,110], "labels": false, "title": null, "tickSize": {"condition": {"test": "datum.value % 20 === 0", "value": -7}, "value": -3.5}}},
       "y": {"field": "g0", "type": "quantitative", "scale": {"domain": [47, 963], "nice": false, "zero": false},
             "axis": {"orient": "left", "values": [100,200,300,400,500,600,700,800,900], "format": "d", "labelExpr": "datum.value % 200 === 0 ? datum.label : ''", "title": null, "labelPadding": 17.5, "tickSize": {"condition": {"test": "datum.value % 200 === 0", "value": -7}, "value": -3.5}}},
       "y2": {"field": "g1"}
     }},
    {"data": {"values": [{"lab": "TH1"}]},
     "mark": {"type": "text", "align": "right", "baseline": "top", "dx": -6, "dy": 3, "font": "DejaVu Sans", "fontSize": 15, "color": "black"},
     "encoding": {
       "x": {"datum": 115, "type": "quantitative", "axis": {"orient": "top", "values": [-10,0,10,20,30,40,50,60,70,80,90,100,110], "labels": false, "title": null, "tickSize": {"condition": {"test": "datum.value % 20 === 0", "value": -7}, "value": -3.5}}},
       "y": {"datum": 963, "type": "quantitative", "axis": {"orient": "right", "values": [100,200,300,400,500,600,700,800,900], "labels": false, "title": null, "tickSize": {"condition": {"test": "datum.value % 200 === 0", "value": -7}, "value": -3.5}}},
       "text": {"field": "lab"}
     }}
  ],
  "resolve": {"axis": {"x": "independent", "y": "independent"}}
},
{
  "width": 604, "height": 89.5,
  "layer": [
    {"data": {"name": "lc"},
     "mark": {"type": "area", "color": "#0000ff", "clip": true},
     "encoding": {
       "x": {"field": "t", "type": "quantitative", "scale": {"domain": [-19.1, 115], "nice": false, "zero": false},
             "axis": {"orient": "bottom", "values": [-10,0,10,20,30,40,50,60,70,80,90,100,110], "labels": false, "title": null, "tickSize": {"condition": {"test": "datum.value % 20 === 0", "value": -7}, "value": -3.5}}},
       "y": {"field": "b0", "type": "quantitative", "scale": {"domain": [146, 1185], "nice": false, "zero": false},
             "axis": {"orient": "left", "values": [200,300,400,500,600,700,800,900,1000,1100], "format": "d", "labelExpr": "datum.value % 500 === 0 ? datum.label : ''", "title": "Counts/sec", "titlePadding": 16, "titleY": 52, "labelPadding": 17.5, "tickSize": {"condition": {"test": "datum.value % 500 === 0", "value": -7}, "value": -3.5}}},
       "y2": {"field": "b1"}
     }},
    {"data": {"values": [{"lab": "TH2"}]},
     "mark": {"type": "text", "align": "right", "baseline": "top", "dx": -6, "dy": 3, "font": "DejaVu Sans", "fontSize": 15, "color": "black"},
     "encoding": {
       "x": {"datum": 115, "type": "quantitative", "axis": {"orient": "top", "values": [-10,0,10,20,30,40,50,60,70,80,90,100,110], "labels": false, "title": null, "tickSize": {"condition": {"test": "datum.value % 20 === 0", "value": -7}, "value": -3.5}}},
       "y": {"datum": 1185, "type": "quantitative", "axis": {"orient": "right", "values": [200,300,400,500,600,700,800,900,1000,1100], "labels": false, "title": null, "tickSize": {"condition": {"test": "datum.value % 500 === 0", "value": -7}, "value": -3.5}}},
       "text": {"field": "lab"}
     }}
  ],
  "resolve": {"axis": {"x": "independent", "y": "independent"}}
},
{
  "width": 604, "height": 89.5,
  "layer": [
    {"data": {"name": "lc"},
     "mark": {"type": "area", "color": "#00ffff", "clip": true},
     "encoding": {
       "x": {"field": "t", "type": "quantitative", "scale": {"domain": [-19.1, 115], "nice": false, "zero": false},
             "axis": {"orient": "bottom", "values": [-10,0,10,20,30,40,50,60,70,80,90,100,110], "labels": false, "title": null, "tickSize": {"condition": {"test": "datum.value % 20 === 0", "value": -7}, "value": -3.5}}},
       "y": {"field": "c0", "type": "quantitative", "scale": {"domain": [408, 1782], "nice": false, "zero": false},
             "axis": {"orient": "left", "values": [500,600,700,800,900,1000,1100,1200,1300,1400,1500,1600,1700], "format": "d", "labelExpr": "datum.value % 500 === 0 ? datum.label : ''", "title": null, "labelPadding": 17.5, "tickSize": {"condition": {"test": "datum.value % 500 === 0", "value": -7}, "value": -3.5}}},
       "y2": {"field": "c1"}
     }},
    {"data": {"values": [{"lab": "TH3"}]},
     "mark": {"type": "text", "align": "right", "baseline": "top", "dx": -6, "dy": 3, "font": "DejaVu Sans", "fontSize": 15, "color": "black"},
     "encoding": {
       "x": {"datum": 115, "type": "quantitative", "axis": {"orient": "top", "values": [-10,0,10,20,30,40,50,60,70,80,90,100,110], "labels": false, "title": null, "tickSize": {"condition": {"test": "datum.value % 20 === 0", "value": -7}, "value": -3.5}}},
       "y": {"datum": 1782, "type": "quantitative", "axis": {"orient": "right", "values": [500,600,700,800,900,1000,1100,1200,1300,1400,1500,1600,1700], "labels": false, "title": null, "tickSize": {"condition": {"test": "datum.value % 500 === 0", "value": -7}, "value": -3.5}}},
       "text": {"field": "lab"}
     }}
  ],
  "resolve": {"axis": {"x": "independent", "y": "independent"}}
},
{
  "width": 604, "height": 89.5,
  "layer": [
    {"data": {"name": "lc"},
     "mark": {"type": "area", "color": "#ff00ff", "clip": true},
     "encoding": {
       "x": {"field": "t", "type": "quantitative", "scale": {"domain": [-19.1, 115], "nice": false, "zero": false},
             "axis": {"orient": "bottom", "values": [-10,0,10,20,30,40,50,60,70,80,90,100,110], "format": "d", "labelExpr": "datum.value % 20 === 0 ? datum.label : ''", "labelPadding": 13.5, "title": "Time [sec] 0 = 2005/12/01 22:35:30.849", "titlePadding": 0, "tickSize": {"condition": {"test": "datum.value % 20 === 0", "value": -7}, "value": -3.5}}},
       "y": {"field": "m0", "type": "quantitative", "scale": {"domain": [1364, 3819], "nice": false, "zero": false},
             "axis": {"orient": "left", "values": [1400,1500,1600,1700,1800,1900,2000,2100,2200,2300,2400,2500,2600,2700,2800,2900,3000,3100,3200,3300,3400,3500,3600,3700,3800], "format": "d", "labelExpr": "datum.value % 500 === 0 ? datum.label : ''", "title": null, "labelPadding": 17.5, "tickSize": {"condition": {"test": "datum.value % 500 === 0", "value": -7}, "value": -3.5}}},
       "y2": {"field": "m1"}
     }},
    {"data": {"values": [{"lab": "TH0123"}]},
     "mark": {"type": "text", "align": "right", "baseline": "top", "dx": -2, "dy": 3, "font": "DejaVu Sans", "fontSize": 15, "color": "black"},
     "encoding": {
       "x": {"datum": 115, "type": "quantitative", "axis": {"orient": "top", "values": [-10,0,10,20,30,40,50,60,70,80,90,100,110], "labels": false, "title": null, "tickSize": {"condition": {"test": "datum.value % 20 === 0", "value": -7}, "value": -3.5}}},
       "y": {"datum": 3819, "type": "quantitative", "axis": {"orient": "right", "values": [1400,1500,1600,1700,1800,1900,2000,2100,2200,2300,2400,2500,2600,2700,2800,2900,3000,3100,3200,3300,3400,3500,3600,3700,3800], "labels": false, "title": null, "tickSize": {"condition": {"test": "datum.value % 500 === 0", "value": -7}, "value": -3.5}}},
       "text": {"field": "lab"}
     }}
  ],
  "resolve": {"axis": {"x": "independent", "y": "independent"}}
}
]
}
